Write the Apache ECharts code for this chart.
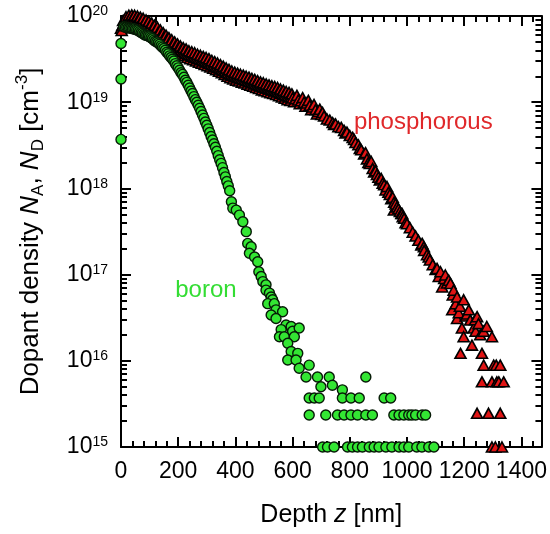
<!DOCTYPE html>
<html>
<head>
<meta charset="utf-8">
<script src="https://cdn.jsdelivr.net/npm/echarts@6/dist/echarts.min.js"></script>
<style>
  html, body { margin: 0; padding: 0; background: #fff; }
  #chart { width: 550px; height: 534px; }
</style>
</head>
<body>
<div id="chart"></div>
<script>
// SIMS depth profiles of phosphorus (donor) and boron (acceptor) implants.
// Depth in nm, density in cm^-3.

const phosDepth = [
  0, 5, 10, 15, 20, 25, 30, 35, 40, 45, 50, 55, 60, 65, 70, 75, 80, 85, 90, 95,
  100, 105, 110, 115, 120, 125, 130, 135, 140, 145, 150, 155, 160, 165, 170, 175, 180, 185, 190, 195,
  200, 205, 210, 215, 220, 225, 230, 235, 240, 245, 250, 255, 260, 265, 270, 275, 280, 285, 290, 295,
  300, 305, 310, 315, 320, 325, 330, 335, 340, 345, 350, 355, 360, 365, 370, 375, 380, 385, 390, 395,
  400, 405, 410, 415, 420, 425, 430, 435, 440, 445, 450, 455, 460, 465, 470, 475, 480, 485, 490, 495,
  500, 505, 510, 515, 520, 525, 530, 535, 540, 545, 550, 555, 560, 565, 570, 575, 580, 585, 590, 595,
  600, 610, 620, 630, 640, 650, 660, 670, 680, 690, 700, 705, 710, 720, 730, 740, 745, 750, 760, 770,
  780, 785, 790, 800, 810, 815, 820, 830, 835, 840, 850, 855, 860, 865, 870, 875, 880, 885, 890, 895,
  900, 905, 910, 915, 920, 925, 930, 935, 940, 945, 950, 955, 960, 965, 970, 975, 980, 985, 990, 995,
  1000, 1010, 1020, 1030, 1040, 1050, 1060, 1070, 1080, 1090, 1100,
  954, 983, 1053, 1059, 1076, 1105, 1117, 1111, 1134, 1146, 1152, 1123, 1163, 1175, 1198, 1158,
  1181, 1216, 1175, 1221, 1245, 1250, 1192, 1233, 1279, 1198, 1256, 1297, 1227, 1187, 1262,
  1160, 1170, 1185, 1205, 1238, 1268, 1140, 1130, 1210, 1240,
  1268, 1303, 1326, 1312, 1262, 1297, 1314, 1338, 1321, 1245, 1285, 1326, 1297, 1309, 1332
];
const phosDensity = [
  7.2e19, 7.8e19, 8.3e19, 8.7e19, 8.9e19, 9.1e19, 9.3e19, 9.2e19, 9.4e19, 9.2e19,
  9.2e19, 9.0e19, 9.1e19, 8.8e19, 8.7e19, 8.6e19, 8.3e19, 8.3e19, 8.0e19, 8.0e19,
  7.7e19, 7.6e19, 7.3e19, 7.2e19, 6.9e19, 6.8e19, 6.5e19, 6.4e19, 6.1e19, 5.9e19,
  5.7e19, 5.5e19, 5.35e19, 5.1e19, 5.0e19, 4.8e19, 4.7e19, 4.55e19, 4.45e19, 4.3e19,
  4.25e19, 4.1e19, 4.05e19, 3.9e19, 3.85e19, 3.75e19, 3.7e19, 3.6e19, 3.55e19, 3.5e19,
  3.42e19, 3.4e19, 3.32e19, 3.3e19, 3.22e19, 3.2e19, 3.12e19, 3.1e19, 3.03e19, 3.0e19,
  2.93e19, 2.9e19, 2.83e19, 2.8e19, 2.72e19, 2.7e19, 2.62e19, 2.6e19, 2.52e19, 2.5e19,
  2.43e19, 2.4e19, 2.33e19, 2.3e19, 2.23e19, 2.2e19, 2.13e19, 2.1e19, 2.06e19, 2.03e19,
  1.99e19, 1.97e19, 1.94e19, 1.92e19, 1.89e19, 1.87e19, 1.84e19, 1.82e19, 1.79e19, 1.77e19,
  1.74e19, 1.72e19, 1.69e19, 1.67e19, 1.64e19, 1.62e19, 1.59e19, 1.57e19, 1.54e19, 1.52e19,
  1.5e19, 1.48e19, 1.46e19, 1.45e19, 1.42e19, 1.41e19, 1.39e19, 1.38e19, 1.36e19, 1.35e19,
  1.32e19, 1.3e19, 1.27e19, 1.26e19, 1.23e19, 1.22e19, 1.19e19, 1.18e19, 1.16e19, 1.15e19,
  1.12e19, 1.1e19, 1.06e19, 1.04e19, 1.0e19, 9.8e18, 9.2e18, 8.8e18, 8.2e18, 7.8e18,
  7.2e18, 7.6e18, 6.9e18, 6.4e18, 6.2e18, 5.8e18, 5.5e18, 5.6e18, 5.2e18, 5.1e18,
  4.7e18, 4.4e18, 4.5e18, 4.1e18, 3.9e18, 3.7e18, 3.4e18, 3.2e18, 2.9e18, 2.8e18,
  2.5e18, 2.6e18, 2.2e18, 2.0e18, 1.95e18, 2.05e18, 1.7e18, 1.55e18, 1.6e18, 1.45e18,
  1.35e18, 1.25e18, 1.3e18, 1.15e18, 1.1e18, 9.6e17, 1.05e18, 9.0e17, 8.5e17, 7.6e17,
  7.9e17, 6.9e17, 6.6e17, 6.1e17, 5.8e17, 5.4e17, 5.1e17, 4.7e17, 4.5e17, 4.0e17,
  3.9e17, 3.5e17, 3.1e17, 2.8e17, 2.5e17, 2.2e17, 1.9e17, 1.7e17, 1.48e17, 1.3e17, 1.15e17,
  5.6e17, 5.1e17, 2.3e17, 2.1e17, 1.6e17, 1.18e17, 1.08e17, 9.5e16, 9.9e16, 8.6e16, 7.9e16, 7.2e16, 6.6e16, 5.5e16, 5.1e16, 3.9e16,
  3.6e16, 3.9e16, 3.1e16, 2.97e16, 3.25e16, 2.7e16, 2.4e16, 2.4e16, 2.5e16, 1.9e16, 2.0e16, 1.9e16, 1.52e16, 1.22e16, 1.22e16,
  5.8e16, 4.6e16, 4.3e16, 3.3e16, 3.0e16, 2.2e16, 8.0e16, 9.0e16, 3.5e16, 2.2e16,
  8.9e15, 8.9e15, 8.9e15, 8.9e15, 5.7e15, 5.7e15, 5.7e15, 5.7e15, 5.7e15, 2.46e15, 2.46e15, 2.46e15, 1e15, 1e15, 1e15
];

// Intermediate phosphorus samples in the shallow region (upper/lower spread of the band)
const phosBandDepth = [
  2.5, 7.5, 12.5, 17.5, 22.5, 27.5, 32.5, 37.5, 42.5, 47.5, 52.5, 57.5, 62.5, 67.5, 72.5, 77.5, 82.5, 87.5, 92.5, 97.5,
  102.5, 107.5, 112.5, 117.5, 122.5, 127.5, 132.5, 137.5, 142.5, 147.5, 152.5, 157.5, 162.5, 167.5, 172.5, 177.5, 182.5, 187.5, 192.5, 197.5,
  202.5, 207.5, 212.5, 217.5, 222.5, 227.5, 232.5, 237.5, 242.5, 247.5, 252.5, 257.5, 262.5, 267.5, 272.5, 277.5, 282.5, 287.5, 292.5, 297.5,
  302.5, 307.5, 312.5, 317.5, 322.5, 327.5, 332.5, 337.5, 342.5, 347.5, 352.5, 357.5, 362.5, 367.5, 372.5, 377.5, 382.5, 387.5, 392.5, 397.5,
  402.5, 407.5, 412.5, 417.5, 422.5, 427.5, 432.5, 437.5, 442.5, 447.5, 452.5, 457.5, 462.5, 467.5, 472.5, 477.5, 482.5, 487.5, 492.5, 497.5,
  502.5, 507.5, 512.5, 517.5, 522.5, 527.5, 532.5, 537.5, 542.5, 547.5, 552.5, 557.5, 562.5, 567.5, 572.5, 577.5, 582.5, 587.5, 592.5, 597.5,
  605, 615, 625, 635, 645, 655, 665, 675, 685, 695
];
const phosBandDensity = [
  6.8e19, 8.9e19, 7.7e19, 9.8e19, 8.2e19, 1.02e20, 8.4e19, 1.03e20, 8.5e19, 1.02e20,
  8.3e19, 1.0e20, 8.1e19, 9.7e19, 7.9e19, 9.4e19, 7.6e19, 9.0e19, 7.3e19, 8.7e19,
  7.0e19, 8.3e19, 6.6e19, 7.8e19, 6.2e19, 7.4e19, 5.9e19, 6.9e19, 5.5e19, 6.4e19,
  5.1e19, 6.0e19, 4.75e19, 5.6e19, 4.45e19, 5.3e19, 4.2e19, 5.0e19, 4.0e19, 4.75e19,
  3.8e19, 4.5e19, 3.6e19, 4.3e19, 3.45e19, 4.15e19, 3.3e19, 3.95e19, 3.2e19, 3.85e19,
  3.1e19, 3.75e19, 3.0e19, 3.6e19, 2.9e19, 3.5e19, 2.83e19, 3.4e19, 2.74e19, 3.3e19,
  2.65e19, 3.2e19, 2.56e19, 3.05e19, 2.47e19, 2.95e19, 2.38e19, 2.85e19, 2.28e19, 2.73e19,
  2.2e19, 2.62e19, 2.1e19, 2.5e19, 2.0e19, 2.4e19, 1.92e19, 2.3e19, 1.86e19, 2.23e19,
  1.8e19, 2.17e19, 1.76e19, 2.11e19, 1.71e19, 2.06e19, 1.67e19, 2.0e19, 1.62e19, 1.95e19,
  1.57e19, 1.89e19, 1.53e19, 1.84e19, 1.48e19, 1.78e19, 1.44e19, 1.72e19, 1.39e19, 1.68e19,
  1.36e19, 1.63e19, 1.32e19, 1.59e19, 1.29e19, 1.55e19, 1.26e19, 1.52e19, 1.23e19, 1.48e19,
  1.19e19, 1.42e19, 1.15e19, 1.38e19, 1.11e19, 1.33e19, 1.07e19, 1.3e19, 1.05e19, 1.25e19,
  1.01e19, 1.2e19, 9.6e18, 1.13e19, 9.0e18, 1.05e19, 8.2e18, 9.4e18, 7.3e18, 8.3e18
];

const boronDepth = [
  0, 0, 0,
  10, 15, 20, 25, 30, 35, 40, 45, 50, 55, 60, 65, 70, 75, 80, 85, 90, 95,
  100, 105, 110, 115, 120, 125, 130, 135, 140, 145, 150, 155, 160, 165, 170, 175, 180, 185, 190, 195,
  200, 205, 210, 215, 220, 225, 230, 235, 240, 245, 250, 255, 260, 265, 270, 275, 280, 285, 290, 295,
  300, 305, 310, 315, 320, 325, 330, 335, 340, 345, 350, 355, 360, 365, 370, 375, 380,
  386, 391, 403, 414, 426, 438, 443, 455, 449, 467, 478, 482, 490, 496, 507, 507, 519, 525, 530, 513,
  536, 542, 565, 525, 542, 577, 560, 595, 600, 623, 554, 571, 606, 583, 595, 618, 583, 612, 623, 658,
  647, 687, 728, 699, 739, 774, 856,
  658, 676, 693, 774, 804, 833, 920, 943,
  658, 716, 757, 780, 804, 827, 856, 879, 954, 972, 989, 1006, 1017, 1030, 1053, 1065,
  705, 722, 745, 792, 809, 827, 844, 868, 885, 902, 926, 947, 972, 989, 1006, 1034, 1052, 1076, 1094
];
const boronDensity = [
  4.8e19, 1.86e19, 3.7e18,
  7.5e19, 7.4e19, 7.4e19, 7.3e19, 7.25e19, 7.2e19, 7.1e19, 7.1e19, 7.0e19, 6.9e19, 6.8e19, 6.6e19, 6.45e19, 6.3e19, 6.15e19, 6.0e19, 5.95e19, 5.85e19,
  5.75e19, 5.6e19, 5.45e19, 5.25e19, 5.1e19, 5.0e19, 4.85e19, 4.7e19, 4.5e19, 4.35e19, 4.2e19, 4.0e19, 3.8e19, 3.65e19, 3.45e19, 3.3e19, 3.15e19, 3.0e19, 2.8e19, 2.65e19,
  2.5e19, 2.35e19, 2.2e19, 2.1e19, 1.95e19, 1.8e19, 1.7e19, 1.57e19, 1.46e19, 1.35e19, 1.26e19, 1.16e19, 1.07e19, 1.0e19, 9.2e18, 8.5e18, 7.8e18, 7.1e18, 6.5e18, 5.9e18,
  5.4e18, 4.9e18, 4.45e18, 4.0e18, 3.65e18, 3.3e18, 3.0e18, 2.7e18, 2.4e18, 2.15e18, 1.95e18, 1.74e18, 1.53e18, 1.36e18, 1.2e18, 1.07e18, 9.4e17,
  7.0e17, 5.9e17, 5.6e17, 4.9e17, 4.1e17, 3.15e17, 2.3e17, 2.1e17, 1.77e17, 1.6e17, 1.41e17, 1.08e17, 9.5e16, 8.3e16, 7.6e16, 6.6e16, 6.1e16, 5.5e16, 5.1e16, 4.6e16,
  4.6e16, 3.9e16, 3.7e16, 3.4e16, 3.1e16, 2.6e16, 2.3e16, 2.5e16, 2.2e16, 2.4e16, 1.9e16, 1.9e16, 1.9e16, 1.6e16, 1.28e16, 1.22e16, 1.02e16, 1.02e16, 8.2e15, 8.9e15,
  6.5e15, 6.5e15, 6.5e15, 5.0e15, 5.2e15, 4.6e15, 6.5e15,
  3.7e15, 3.7e15, 3.7e15, 3.7e15, 3.7e15, 3.7e15, 3.7e15, 3.7e15,
  2.35e15, 2.35e15, 2.35e15, 2.35e15, 2.35e15, 2.35e15, 2.35e15, 2.35e15, 2.35e15, 2.35e15, 2.35e15, 2.35e15, 2.35e15, 2.35e15, 2.35e15, 2.35e15,
  1e15, 1e15, 1e15, 1e15, 1e15, 1e15, 1e15, 1e15, 1e15, 1e15, 1e15, 1e15, 1e15, 1e15, 1e15, 1e15, 1e15, 1e15, 1e15
];

// Axis ticks
const xTickValues = [0, 200, 400, 600, 800, 1000, 1200, 1400];
const xMinorValues = [
  40, 80, 120, 160, 240, 280, 320, 360, 440, 480, 520, 560, 640, 680, 720, 760,
  840, 880, 920, 960, 1040, 1080, 1120, 1160, 1240, 1280, 1320, 1360, 1440
];
const yTickValues = [1e15, 1e16, 1e17, 1e18, 1e19, 1e20];
const X_MAX = 1470;

// log-style minor ticks: 2..9 within each decade
const yMinorValues = [];
yTickValues.slice(0, -1).forEach(function (dec) {
  for (let k = 2; k <= 9; k++) yMinorValues.push(k * dec);
});

const FONT = '"Liberation Sans", Arial, Helvetica, sans-serif';
const AXIS_COLOR = '#000';

const chart = echarts.init(document.getElementById('chart'), null, { renderer: 'canvas' });

function xAxisDef(pos, minor) {
  return {
    type: 'value',
    position: pos,
    min: 0,
    max: X_MAX,
    axisLine: { show: !minor, onZero: false, lineStyle: { color: AXIS_COLOR, width: 2 } },
    axisTick: {
      show: true, inside: true, length: minor ? 6 : 10,
      customValues: minor ? xMinorValues : xTickValues,
      lineStyle: { color: AXIS_COLOR, width: 2 }
    },
    axisLabel: (pos === 'bottom' && !minor) ? {
      show: true, customValues: xTickValues, color: '#000', fontSize: 23,
      fontFamily: FONT, margin: 13,
      formatter: function (v) { return String(v); }
    } : { show: false },
    splitLine: { show: false }
  };
}

function yAxisDef(pos, minor) {
  return {
    type: 'log',
    logBase: 10,
    position: pos,
    min: 1e15,
    max: 1e20,
    axisLine: { show: !minor, onZero: false, lineStyle: { color: AXIS_COLOR, width: 2 } },
    axisTick: {
      show: true, inside: true, length: minor ? 6 : 10,
      customValues: minor ? yMinorValues : yTickValues,
      lineStyle: { color: AXIS_COLOR, width: 2 }
    },
    axisLabel: (pos === 'left' && !minor) ? {
      show: true,
      customValues: yTickValues,
      margin: 13,
      formatter: function (v) {
        return '{b|10}{s|' + Math.round(Math.log10(v)) + '}';
      },
      rich: {
        b: { fontSize: 23, fontFamily: FONT, color: '#000', lineHeight: 23, verticalAlign: 'bottom' },
        s: { fontSize: 14, fontFamily: FONT, color: '#000', lineHeight: 23, verticalAlign: 'top' }
      }
    } : { show: false },
    splitLine: { show: false }
  };
}

const xAxes = [xAxisDef('bottom', false), xAxisDef('top', false), xAxisDef('bottom', true), xAxisDef('top', true)];
xAxes[0].name = 'Depth {i|z} [nm]';
xAxes[0].nameLocation = 'middle';
xAxes[0].nameGap = 56;
xAxes[0].nameTextStyle = {
  fontSize: 25, fontFamily: FONT, color: '#000',
  rich: { i: { fontSize: 25, fontFamily: FONT, fontStyle: 'italic', color: '#000' } }
};

const yAxes = [yAxisDef('left', false), yAxisDef('right', false), yAxisDef('left', true), yAxisDef('right', true)];
yAxes[0].name = 'Dopant density {i|N}{sub|A}, {i|N}{sub|D} [cm{sup|-3}]';
yAxes[0].nameLocation = 'middle';
yAxes[0].nameRotate = 90;
yAxes[0].nameGap = 74;
yAxes[0].nameTextStyle = {
  fontSize: 26, fontFamily: FONT, color: '#000', lineHeight: 33,
  rich: {
    i: { fontSize: 26, fontFamily: FONT, fontStyle: 'italic', color: '#000', lineHeight: 33 },
    sub: { fontSize: 17, fontFamily: FONT, color: '#000', lineHeight: 20, verticalAlign: 'bottom' },
    sup: { fontSize: 17, fontFamily: FONT, color: '#000', lineHeight: 20, verticalAlign: 'top' }
  }
};

// Merge the phosphorus samples and draw them in order of depth
const phosPoints = phosDepth.map(function (d, i) { return [d, phosDensity[i]]; })
  .concat(phosBandDepth.map(function (d, i) { return [d, phosBandDensity[i]]; }))
  .sort(function (a, b) { return a[0] - b[0]; });
const boronPoints = boronDepth.map(function (d, i) { return [d, boronDensity[i]]; });

chart.setOption({
  animation: false,
  backgroundColor: '#fff',
  grid: { left: 121, right: 5, top: 16, bottom: 87, containLabel: false },
  xAxis: xAxes,
  yAxis: yAxes,
  series: [
    {
      name: 'phosphorous',
      type: 'scatter',
      xAxisIndex: 0,
      yAxisIndex: 0,
      clip: false,
      symbol: 'triangle',
      symbolSize: [11, 10],
      itemStyle: { color: '#e01414', borderColor: '#000', borderWidth: 1.6, opacity: 1 },
      data: phosPoints
    },
    {
      name: 'boron',
      type: 'scatter',
      xAxisIndex: 0,
      yAxisIndex: 0,
      clip: false,
      symbol: 'circle',
      symbolSize: 10,
      itemStyle: { color: '#33e633', borderColor: '#061a06', borderWidth: 1.4, opacity: 1 },
      data: boronPoints
    }
  ]
});

// In-plot labels naming each profile, anchored in data space
const notes = [
  { text: 'phosphorous', at: [1057, 5.9e18], color: '#e0282a' },
  { text: 'boron', at: [297, 6.6e16], color: '#33dd33' }
];
chart.setOption({
  graphic: notes.map(function (n) {
    const p = chart.convertToPixel({ xAxisIndex: 0, yAxisIndex: 0 }, n.at);
    return {
      type: 'text', x: p[0], y: p[1], z: 10,
      style: { text: n.text, fill: n.color, font: '24px ' + FONT, align: 'center', verticalAlign: 'middle' }
    };
  })
});
</script>
</body>
</html>
